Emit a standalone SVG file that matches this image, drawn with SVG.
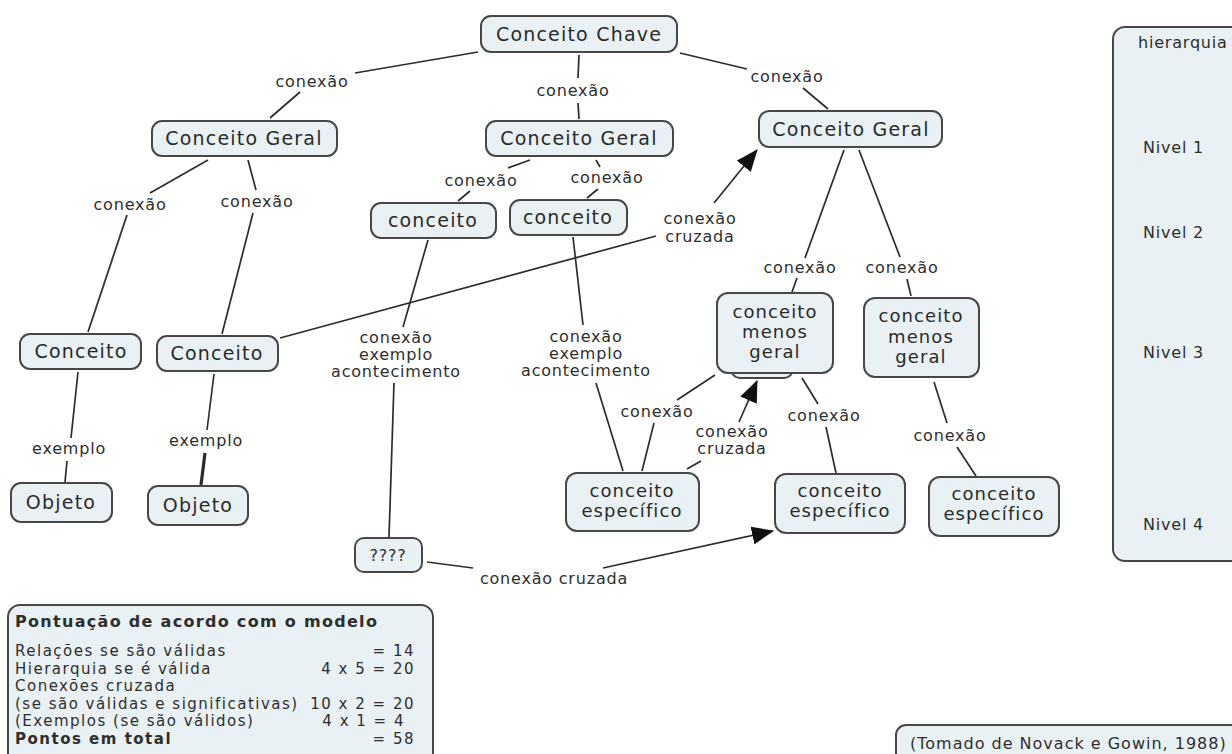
<svg xmlns="http://www.w3.org/2000/svg" width="1232" height="754" viewBox="0 0 1232 754">
  <defs>
    <marker id="arrow" markerUnits="userSpaceOnUse" markerWidth="22" markerHeight="18" viewBox="0 0 22 18" refX="21" refY="9" orient="auto">
      <path d="M0,0 L22,9 L0,18 Z" fill="#111"/>
    </marker>
  </defs>
  <style>
    .box { fill: #e9f1f5; stroke: #474747; stroke-width: 2; }
    .nt { font-family: "DejaVu Sans", Verdana, sans-serif; font-size: 19px; letter-spacing: 1.2px; fill: #2a2a2a; text-anchor: middle; }
    .nt2 { font-family: "DejaVu Sans", Verdana, sans-serif; font-size: 18px; letter-spacing: 1.1px; fill: #2a2a2a; text-anchor: middle; }
    .lb { font-family: "DejaVu Sans", Verdana, sans-serif; font-size: 16px; letter-spacing: 0.8px; fill: #2e2e2e; text-anchor: middle; }
    .tx { font-family: "DejaVu Sans", Verdana, sans-serif; font-size: 16px; letter-spacing: 0.8px; fill: #2e2e2e; }
    .sc { font-family: "DejaVu Sans", Verdana, sans-serif; font-size: 15px; letter-spacing: 1.5px; fill: #2e2e2e; }
    .b { font-weight: bold; }
    .ttl { font-size: 16px; letter-spacing: 1.3px; }
    .end { text-anchor: end; }
    .src { letter-spacing: 1px; }
    .ln { fill: none; stroke: #2c2c2c; stroke-width: 1.7; }
    .thick { stroke-width: 3.2; }
  </style>
  <rect width="1232" height="754" fill="#ffffff"/>

  <!-- connectors and linking phrases -->
  <g id="connectors">
    <!-- Conceito Chave -> left Conceito Geral -->
    <line class="ln" x1="478" y1="52" x2="355" y2="73"/>
    <text class="lb" x="312" y="87">conexão</text>
    <line class="ln" x1="300" y1="92" x2="270" y2="118"/>
    <!-- Conceito Chave -> middle Conceito Geral -->
    <line class="ln" x1="579" y1="55" x2="578" y2="78"/>
    <text class="lb" x="573" y="96">conexão</text>
    <line class="ln" x1="578" y1="103" x2="579" y2="119"/>
    <!-- Conceito Chave -> right Conceito Geral -->
    <line class="ln" x1="680" y1="53" x2="747" y2="69"/>
    <text class="lb" x="787" y="82">conexão</text>
    <line class="ln" x1="803" y1="88" x2="828" y2="109"/>

    <!-- left Conceito Geral branches -->
    <line class="ln" x1="208" y1="160" x2="150" y2="193"/>
    <text class="lb" x="130" y="210">conexão</text>
    <line class="ln" x1="127" y1="215" x2="88" y2="332"/>
    <line class="ln" x1="248" y1="160" x2="256" y2="190"/>
    <text class="lb" x="257" y="207">conexão</text>
    <line class="ln" x1="253" y1="213" x2="222" y2="334"/>

    <!-- Conceito -> exemplo -> Objeto -->
    <line class="ln" x1="78" y1="372" x2="71" y2="438"/>
    <text class="lb" x="69" y="454">exemplo</text>
    <line class="ln" x1="67" y1="461" x2="65" y2="482"/>
    <line class="ln" x1="214" y1="374" x2="207" y2="430"/>
    <text class="lb" x="206" y="446">exemplo</text>
    <line class="ln thick" x1="205" y1="453" x2="201" y2="485"/>

    <!-- middle Conceito Geral -> conceito pair -->
    <line class="ln" x1="530" y1="160" x2="508" y2="168"/>
    <text class="lb" x="481" y="186">conexão</text>
    <line class="ln" x1="470" y1="191" x2="458" y2="201"/>
    <line class="ln" x1="596" y1="160" x2="600" y2="167"/>
    <text class="lb" x="607" y="183">conexão</text>
    <line class="ln" x1="598" y1="189" x2="587" y2="198"/>

    <!-- cross link from Conceito up to right Conceito Geral -->
    <line class="ln" x1="280" y1="338" x2="656" y2="236"/>
    <text class="lb" x="700" y="224">conexão</text>
    <text class="lb" x="700" y="242">cruzada</text>
    <line class="ln" x1="714" y1="203" x2="757" y2="150" marker-end="url(#arrow)"/>

    <!-- left conceito -> example -> ???? -->
    <line class="ln" x1="428" y1="240" x2="403" y2="327"/>
    <text class="lb" x="396" y="343">conexão</text>
    <text class="lb" x="396" y="360">exemplo</text>
    <text class="lb" x="396" y="377">acontecimento</text>
    <line class="ln" x1="394" y1="383" x2="389" y2="537"/>

    <!-- right conceito -> example -> conceito específico -->
    <line class="ln" x1="573" y1="237" x2="583" y2="325"/>
    <text class="lb" x="586" y="342">conexão</text>
    <text class="lb" x="586" y="359">exemplo</text>
    <text class="lb" x="586" y="376">acontecimento</text>
    <line class="ln" x1="596" y1="383" x2="623" y2="471"/>

    <!-- ???? cross link -> middle conceito específico -->
    <line class="ln" x1="427" y1="562" x2="473" y2="568"/>
    <text class="lb" x="554" y="584">conexão cruzada</text>
    <line class="ln" x1="603" y1="568" x2="773" y2="531" marker-end="url(#arrow)"/>

    <!-- right Conceito Geral -> conceitos menos gerais -->
    <line class="ln" x1="844" y1="150" x2="805" y2="258"/>
    <text class="lb" x="800" y="273">conexão</text>
    <line class="ln" x1="797" y1="278" x2="792" y2="292"/>
    <line class="ln" x1="859" y1="150" x2="900" y2="257"/>
    <text class="lb" x="902" y="273">conexão</text>
    <line class="ln" x1="907" y1="279" x2="911" y2="296"/>

    <!-- conceito específico -> conceito menos geral -->
    <line class="ln" x1="642" y1="471" x2="654" y2="423"/>
    <text class="lb" x="657" y="417">conexão</text>
    <line class="ln" x1="677" y1="400" x2="715" y2="375"/>
    <!-- second cross link -->
    <line class="ln" x1="687" y1="469" x2="701" y2="461"/>
    <text class="lb" x="732" y="437">conexão</text>
    <text class="lb" x="732" y="454">cruzada</text>
    <line class="ln" x1="739" y1="422" x2="757" y2="381" marker-end="url(#arrow)"/>

    <!-- conceitos menos gerais -> conceitos específicos -->
    <line class="ln" x1="802" y1="378" x2="818" y2="404"/>
    <text class="lb" x="824" y="421">conexão</text>
    <line class="ln" x1="826" y1="427" x2="836" y2="473"/>
    <line class="ln" x1="934" y1="382" x2="947" y2="423"/>
    <text class="lb" x="950" y="441">conexão</text>
    <line class="ln" x1="957" y1="447" x2="976" y2="476"/>
  </g>

  <!-- concept nodes -->
  <g id="conceito-chave">
    <rect class="box" x="481" y="16" width="196" height="36" rx="10"/>
    <text class="nt" x="579" y="41">Conceito Chave</text>
  </g>
  <g id="conceito-geral-1">
    <rect class="box" x="152" y="121" width="185" height="35" rx="10"/>
    <text class="nt" x="244" y="145">Conceito Geral</text>
  </g>
  <g id="conceito-geral-2">
    <rect class="box" x="486" y="121" width="187" height="35" rx="10"/>
    <text class="nt" x="579" y="145">Conceito Geral</text>
  </g>
  <g id="conceito-geral-3">
    <rect class="box" x="759" y="111" width="183" height="36" rx="10"/>
    <text class="nt" x="851" y="136">Conceito Geral</text>
  </g>
  <g id="conceito-a">
    <rect class="box" x="371" y="203" width="125" height="35" rx="10"/>
    <text class="nt" x="433" y="227">conceito</text>
  </g>
  <g id="conceito-b">
    <rect class="box" x="510" y="200" width="117" height="35" rx="10"/>
    <text class="nt" x="568" y="224">conceito</text>
  </g>
  <g id="conceito-1">
    <rect class="box" x="20" y="334" width="121" height="35" rx="10"/>
    <text class="nt" x="81" y="358">Conceito</text>
  </g>
  <g id="conceito-2">
    <rect class="box" x="157" y="336" width="121" height="35" rx="10"/>
    <text class="nt" x="217" y="360">Conceito</text>
  </g>
  <g id="objeto-1">
    <rect class="box" x="11" y="483" width="101" height="39" rx="10"/>
    <text class="nt" x="61" y="509">Objeto</text>
  </g>
  <g id="objeto-2">
    <rect class="box" x="148" y="486" width="100" height="39" rx="10"/>
    <text class="nt" x="198" y="512">Objeto</text>
  </g>
  <g id="incognito">
    <rect class="box" x="355" y="538" width="67" height="34" rx="9"/>
    <text class="lb" x="388" y="561">????</text>
  </g>
  <g id="menos-geral-1">
    <rect class="box" x="731" y="340" width="62" height="38" rx="9"/>
    <rect class="box" x="717" y="293" width="116" height="80" rx="11"/>
    <text class="nt2" x="775" y="318">conceito</text>
    <text class="nt2" x="775" y="338">menos</text>
    <text class="nt2" x="775" y="358">geral</text>
  </g>
  <g id="menos-geral-2">
    <rect class="box" x="864" y="298" width="115" height="79" rx="11"/>
    <text class="nt2" x="921" y="322">conceito</text>
    <text class="nt2" x="921" y="343">menos</text>
    <text class="nt2" x="921" y="363">geral</text>
  </g>
  <g id="especifico-1">
    <rect class="box" x="566" y="473" width="133" height="58" rx="11"/>
    <text class="nt2" x="632" y="497">conceito</text>
    <text class="nt2" x="632" y="517">específico</text>
  </g>
  <g id="especifico-2">
    <rect class="box" x="775" y="474" width="130" height="59" rx="11"/>
    <text class="nt2" x="840" y="497">conceito</text>
    <text class="nt2" x="840" y="517">específico</text>
  </g>
  <g id="especifico-3">
    <rect class="box" x="929" y="477" width="130" height="59" rx="11"/>
    <text class="nt2" x="994" y="500">conceito</text>
    <text class="nt2" x="994" y="520">específico</text>
  </g>

  <!-- hierarchy levels column -->
  <g id="hierarquia">
    <rect class="box" x="1113" y="27" width="140" height="534" rx="12"/>
    <text class="tx" x="1138" y="48">hierarquia</text>
    <text class="tx" x="1143" y="153">Nivel 1</text>
    <text class="tx" x="1143" y="238">Nivel 2</text>
    <text class="tx" x="1143" y="358">Nivel 3</text>
    <text class="tx" x="1143" y="530">Nivel 4</text>
  </g>

  <!-- scoring panel -->
  <g id="pontuacao">
    <rect class="box" x="8" y="605" width="425" height="160" rx="12"/>
    <text class="sc b ttl" x="15" y="627">Pontuação de acordo com o modelo</text>
    <text class="sc" x="15" y="656">Relações se são válidas</text>
    <text class="sc end" x="415" y="656">= 14</text>
    <text class="sc" x="15" y="673.5">Hierarquia se é válida</text>
    <text class="sc end" x="415" y="673.5">4 x 5 = 20</text>
    <text class="sc" x="15" y="691">Conexões cruzada</text>
    <text class="sc" x="15" y="708.5">(se são válidas e significativas)</text>
    <text class="sc end" x="415" y="708.5">10 x 2 = 20</text>
    <text class="sc" x="15" y="726">(Exemplos (se são válidos)</text>
    <text class="sc end" x="405" y="726">4 x 1 = 4</text>
    <text class="sc b" x="15" y="743.5">Pontos em total</text>
    <text class="sc end" x="415" y="743.5">= 58</text>
  </g>

  <!-- source note -->
  <g id="fonte">
    <rect class="box" x="896" y="725" width="350" height="40" rx="10"/>
    <text class="tx src" x="910" y="749">(Tomado de Novack e Gowin, 1988)</text>
  </g>
</svg>
